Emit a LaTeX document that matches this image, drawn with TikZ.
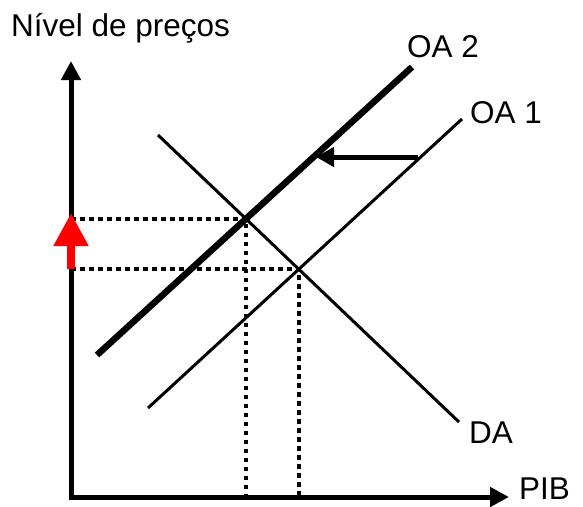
\documentclass[tikz,border=0pt]{standalone}
\usepackage{fontspec}
\setmainfont{Liberation Sans}
\usetikzlibrary{arrows.meta,intersections}
\begin{document}
\begin{tikzpicture}[x=1pt,y=-1pt,
  lbl/.style={inner sep=0pt,anchor=base west,font=\fontsize{31.5}{36}\selectfont},
  axisline/.style={line width=5pt,line join=miter},
  thinline/.style={line width=3pt},
  thickline/.style={line width=6.5pt},
  dotline/.style={line width=3.5pt,dash pattern=on 4.5pt off 4.5pt},
  shiftarrow/.style={line width=5pt,-{Triangle[length=18pt,width=19pt]}},
  redarrow/.style={red,line width=8pt,-{Triangle[length=33pt,width=33pt]}}]
\useasboundingbox[fill=white] (0,0) rectangle (583,506);
% coordinates
\coordinate (ytip) at (71,61);
\coordinate (O) at (71,497);
\coordinate (xtip) at (509,497);
\coordinate (oa2a) at (97,355);
\coordinate (oa2b) at (412,67);
\coordinate (oa1a) at (148,408);
\coordinate (oa1b) at (462,119);
\coordinate (daa) at (158,135);
\coordinate (dab) at (459,422);
\coordinate (sfrom) at (418,157);
\coordinate (sto) at (316,157);
\coordinate (rfrom) at (71,269);
\coordinate (rto) at (71,213);
% curves
\draw[thickline,name path=OAtwo] (oa2a) -- (oa2b);
\draw[thinline,name path=OAone] (oa1a) -- (oa1b);
\draw[thinline,name path=DA] (daa) -- (dab);
\path[name intersections={of=OAtwo and DA,by=E2}];
\path[name intersections={of=OAone and DA,by=E1}];
% dotted guides
\draw[dotline] (O |- E2) -- (E2) -- (E2 |- O);
\draw[dotline] (O |- E1) -- (E1) -- (E1 |- O);
% axes
\draw[axisline,{Triangle[length=19pt,width=19pt]}-{Triangle[length=19pt,width=19pt]}] (ytip) -- (O) -- (xtip);
% arrows
\draw[shiftarrow] (sfrom) -- (sto);
\draw[redarrow] (rfrom) -- (rto);
% labels
\node[lbl] (ylab) at (11,36) {Nível de preços};
\node[lbl,text depth=0pt] (xlab) at (519,499) {PIB};
\node[lbl] (l2) at (407,57) {OA 2};
\node[lbl] (l1) at (470,123) {OA 1};
\node[lbl] (ld) at (469,443) {DA};
\end{tikzpicture}
\end{document}
